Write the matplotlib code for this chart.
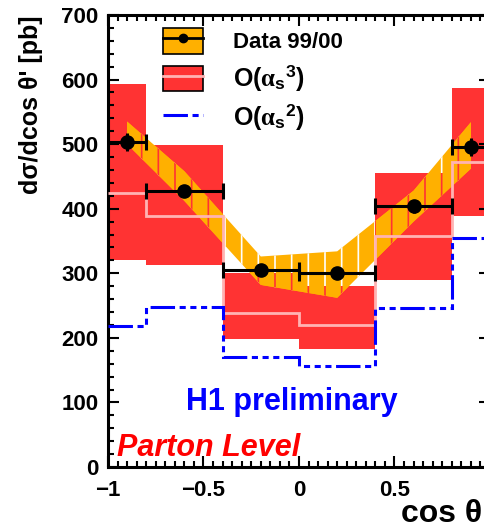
import matplotlib
matplotlib.use("Agg")
import matplotlib.pyplot as plt
import numpy as np
from matplotlib.patches import Patch, Rectangle
from matplotlib.lines import Line2D

plt.rcParams['font.family'] = ['Liberation Sans', 'DejaVu Sans']
plt.rcParams['font.weight'] = 'bold'
plt.rcParams['axes.labelweight'] = 'bold'
plt.rcParams['mathtext.fontset'] = 'custom'
plt.rcParams['mathtext.rm'] = 'Liberation Sans:bold'
plt.rcParams['mathtext.bf'] = 'Liberation Sans:bold'
plt.rcParams['mathtext.it'] = 'Liberation Serif'
plt.rcParams['hatch.linewidth'] = 1.2

# bins in cos theta'
edges = [-1, -0.8, -0.4, 0, 0.4, 0.8, 1]

# O(alpha_s^3) prediction: band and central value
nlo_hi = [593, 498, 301, 280, 456, 587]
nlo_lo = [321, 313, 198, 183, 290, 388]
nlo_c = [425, 388, 239, 220, 357, 473]

# O(alpha_s^2) prediction
lo_pred = [219, 248, 171, 156, 247, 355]

# data 99/00
data_x = [-0.9, -0.6, -0.2, 0.2, 0.6, 0.9]
data_y = [504, 428, 305, 300, 404, 495]
data_yerr = [14, 8, 6, 6, 10, 14]
band_hi = [535, 458, 326, 334, 428, 534]
band_lo = [500, 412, 282, 262, 380, 462]

xticks = [-1, -0.5, 0, 0.5, 1]
xticklabels = ['\u22121', '\u22120.5', '0', '0.5', '1']

red = '#ff3333'
orange = '#ffb000'
pink = '#ffb3b3'
blue = '#0000ff'
dash = (0, (8, 1.5, 2, 1.5, 2, 1.5, 2, 1.5))

fig = plt.figure(figsize=(4.84, 5.27), dpi=100)
ax = fig.add_axes([108/484, 60/527, 382/484, 452/527])

edges_a = np.array(edges)
widths = np.diff(edges_a)

# NLO band boxes
ax.stairs(nlo_hi, edges, baseline=nlo_lo, fill=True, color=red, zorder=1)

# data error band, hatch lines show what lies underneath
bx = np.r_[data_x, data_x[::-1]]
by = np.r_[band_hi, band_lo[::-1]]
ax.fill(bx, by, facecolor=orange, edgecolor='white', hatch='|', linewidth=0, zorder=2)
for i in range(len(nlo_hi)):
    clip = Rectangle((edges[i], nlo_lo[i]), widths[i], nlo_hi[i] - nlo_lo[i],
                     transform=ax.transData)
    p, = ax.fill(bx, by, facecolor=orange, edgecolor=red, hatch='|', linewidth=0, zorder=2.1)
    p.set_clip_path(clip)

ax.stairs(nlo_c, edges, baseline=None, color=pink, lw=2, zorder=3)
ax.stairs(lo_pred, edges, baseline=None, color=blue, lw=2.2, ls=dash, zorder=3)

ax.errorbar(data_x, data_y, yerr=data_yerr, fmt='none', ecolor='black', lw=2.2, zorder=5)
ax.errorbar(data_x, data_y, xerr=widths/2, fmt='o', color='black',
            ms=9.5, lw=2.2, capsize=5.5, capthick=2.2, zorder=5)

ax.set_xlim(-1, 1)
ax.set_ylim(0, 700)
ax.set_xticks(xticks, xticklabels)
ax.set_xticks(np.arange(-1, 1.001, 0.05), minor=True)
ax.set_yticks(np.arange(0, 701, 100))
ax.set_yticks(np.arange(0, 701, 20), minor=True)
ax.tick_params(which='both', direction='in', top=True, right=True, width=1.5,
               labelsize=16)
ax.tick_params(which='major', length=8)
ax.tick_params(which='minor', length=4)
ax.tick_params(axis='x', pad=9)
ax.tick_params(axis='y', pad=7)
for s in ax.spines.values():
    s.set_linewidth(2.2)

ax.set_ylabel("d\u03c3/dcos \u03b8' [pb]", loc='top', fontsize=18)
ax.yaxis.set_label_coords(-0.17, 1.0)
ax.set_xlabel("cos \u03b8'", loc='right', fontsize=23)
ax.xaxis.set_label_coords(1.0, -0.07)

ax.text(-0.04, 101, 'H1 preliminary', color=blue, fontsize=22, ha='center', va='center')
ax.text(-0.955, 29, 'Parton Level', color='red', fontsize=22, style='italic',
        ha='left', va='center')

h1 = (Patch(facecolor=orange, edgecolor='black', lw=1.2),
      Line2D([], [], color='black', marker='o', ms=6, lw=2))
h2 = (Patch(facecolor=red, edgecolor='black', lw=1.2), Line2D([], [], color=pink, lw=2))
h3 = Line2D([], [], color=blue, lw=2.2, ls=dash)
leg = ax.legend([h1, h2, h3],
                ['Data 99/00', r'O($\alpha_{\rm s}{}^{3}$)', r'O($\alpha_{\rm s}{}^{2}$)'],
                loc='upper left', bbox_to_anchor=(163/484, 1 - 28/527),
                bbox_transform=fig.transFigure, frameon=False, fontsize=16,
                borderpad=0, borderaxespad=0, handlelength=1.8, handleheight=1.4,
                labelspacing=0.42, handletextpad=1.35)
for t in leg.get_texts()[1:]:
    t.set_fontsize(18)

fig.savefig('out.png', dpi=100)
